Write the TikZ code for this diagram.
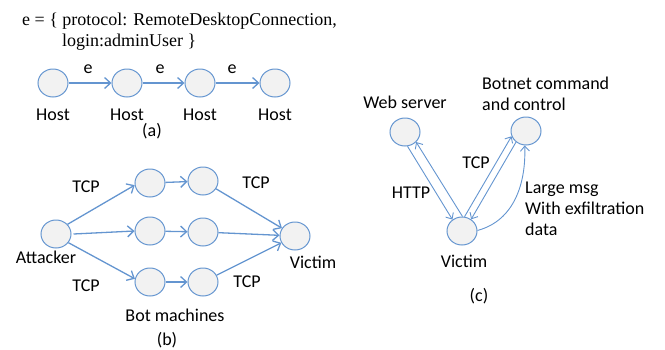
\documentclass[tikz,border=0pt]{standalone}
\usepackage{fontspec}
\setmainfont{Liberation Serif}
\newfontfamily\lblfont{Carlito}
\usetikzlibrary{arrows.meta}
\usetikzlibrary{shapes.geometric}
\definecolor{linkblue}{HTML}{6495D0}
\definecolor{nodefill}{HTML}{F2F2F2}
\tikzset{
 host/.style={ellipse,draw=linkblue,fill=nodefill,line width=1pt,minimum width=30pt,minimum height=28pt,inner sep=0pt},
 lbl/.style={font=\lblfont\fontsize{18}{21}\selectfont,inner sep=0pt},
 mlbl/.style={lbl,align=left},
 link/.style={linkblue,line width=1.3pt,->,>={Straight Barb[length=6pt,width=11pt]}},
 thinlink/.style={linkblue,line width=0.9pt,->,>={Straight Barb[length=5pt,width=9pt]}}
}
\begin{document}
\begin{tikzpicture}[x=1pt,y=-1pt]
\useasboundingbox (0,0) rectangle (665,349);
% (a)
\node[anchor=base west,inner sep=0pt,font=\fontsize{18}{21}\selectfont] (title) at (22,25) {e = \{ protocol: RemoteDesktopConnection,};
\node[anchor=base west,inner sep=0pt,font=\fontsize{18}{21}\selectfont] (title2) at (62,46) {login:adminUser \}};
\foreach \i/\x in {1/53,2/127,3/200,4/275} {
 \node[host] (h\i) at (\x,83) {};
 \node[lbl] (hl\i) at (\x,115) {Host};
 }
\foreach \i/\j/\x in {1/2/88,2/3/160,3/4/232} {
 \draw[link] (h\i) -- (h\j);
 \node[lbl] (e\i) at (\x,69) {e};
 }
\node[lbl] (capa) at (152,131) {(a)};
% (b)
\node[host] (att) at (56,234) {};
\node[host] (t1) at (150,183) {};
\node[host] (t2) at (203,181) {};
\node[host] (m1) at (150,231) {};
\node[host] (m2) at (203,232) {};
\node[host] (b1) at (150,282) {};
\node[host] (b2) at (203,282) {};
\node[host] (vic) at (295,236) {};
\draw[link] (att.40) -- (t1.188);
\draw[link] ([xshift=2pt]att.east) -- (m1.west);
\draw[link] (att.-35) -- (b1.168);
\draw[link] (t1) -- (t2);
\draw[link] (m1) -- (m2);
\draw[link] (b1) -- (b2);
\draw[link] (t2) -- (vic);
\draw[link] (m2) -- (vic);
\draw[link] (b2) -- (vic);
\node[lbl] (tcp1) at (86,187) {TCP};
\node[lbl] (tcp2) at (256,183) {TCP};
\node[lbl] (tcp3) at (86,286) {TCP};
\node[lbl] (tcp4) at (247,282) {TCP};
\node[lbl] (attl) at (46,257) {Attacker};
\node[lbl] (vicl) at (313,262) {Victim};
\node[lbl] (bots) at (175,315) {Bot machines};
\node[lbl] (capb) at (167,340) {(b)};
% (c)
\node[host] (web) at (405,132) {};
\node[host] (cnc) at (526,131) {};
\node[host] (vc) at (462,231) {};
\draw[thinlink] (web.-80) -- (vc.130);
\draw[thinlink] (vc.88) -- (web.-42);
\draw[thinlink] (vc.80) -- (cnc.-160);
\draw[thinlink] (cnc.-132) -- (vc.52);
\draw[thinlink] (vc.2) to[out=15,in=-88] (cnc.-95);
\node[lbl] (webl) at (405,102) {Web server};
\node[mlbl,anchor=west] (cncl) at (482,94) {Botnet command\\and control};
\node[lbl] (tcpc) at (476,163) {TCP};
\node[lbl] (http) at (411,193) {HTTP};
\node[mlbl,anchor=west] (msg) at (525,209) {Large msg\\With exfiltration\\data};
\node[lbl] (vcl) at (464,261) {Victim};
\node[lbl] (capc) at (479,296) {(c)};
\end{tikzpicture}
\end{document}
